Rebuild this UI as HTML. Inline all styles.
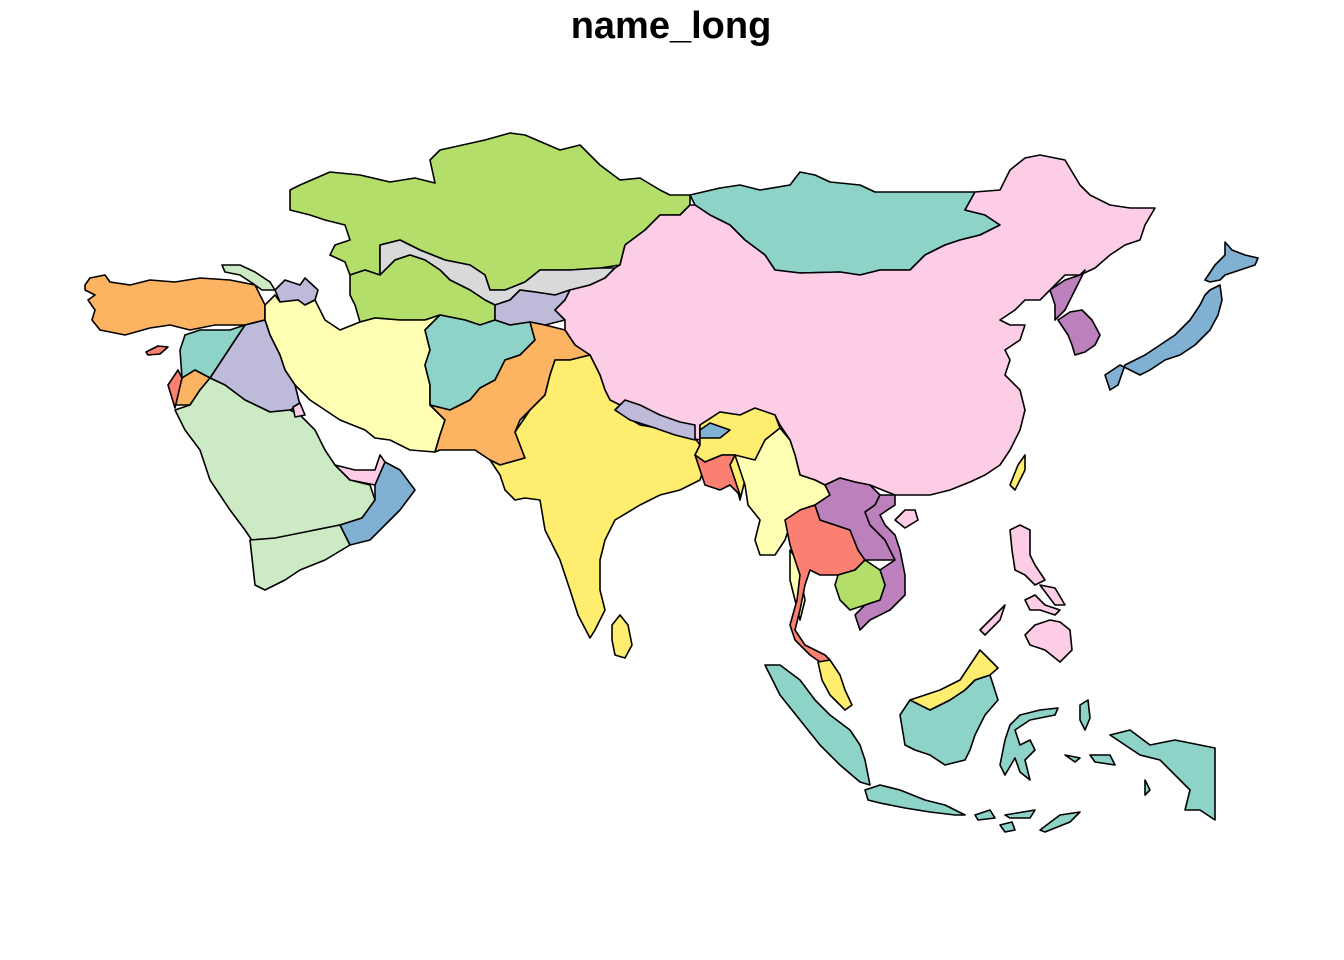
<!DOCTYPE html>
<html><head><meta charset="utf-8"><style>
html,body{margin:0;padding:0;background:#fff;}
svg{display:block}
polygon{stroke:#000;stroke-width:1.6;stroke-linejoin:round}
</style></head><body>
<svg width="1344" height="960" viewBox="0 0 1344 960" xmlns="http://www.w3.org/2000/svg">
<rect width="1344" height="960" fill="#fff" stroke="none"/>
<text x="671" y="38" text-anchor="middle" font-family="Liberation Sans, sans-serif" font-weight="bold" font-size="38">name_long</text>
<polygon fill="#B3DE69" points="290,190 300,185 330,172 360,175 390,182 415,178 435,183 430,160 440,150 485,140 510,133 525,135 560,150 580,145 600,165 620,180 640,178 660,190 670,195 690,195 690,205 680,215 660,215 645,230 625,245 620,265 600,268 570,270 540,270 525,282 505,290 490,290 485,275 470,265 445,260 420,250 400,240 380,245 380,275 365,270 350,275 345,262 330,255 335,245 350,240 345,225 325,220 310,215 290,210"/>
<polygon fill="#D9D9D9" points="380,245 400,240 420,250 445,260 470,265 485,275 490,290 505,290 525,282 540,270 570,270 600,268 615,268 605,278 590,285 570,290 555,295 535,292 520,290 510,300 495,305 485,300 470,290 450,280 440,270 425,260 410,255 395,260 380,275"/>
<polygon fill="#B3DE69" points="350,275 365,270 380,275 395,260 410,255 425,260 440,270 450,280 470,290 485,300 495,305 495,320 480,325 465,320 440,315 425,320 400,320 375,318 360,322 355,305 350,295"/>
<polygon fill="#BEBADA" points="495,305 510,300 520,290 535,292 555,295 570,290 565,300 555,310 565,320 545,325 530,322 510,325 495,320"/>
<polygon fill="#8DD3C7" points="690,195 720,188 740,185 760,190 790,185 800,172 815,175 830,182 860,185 875,192 920,192 945,192 975,192 965,210 985,215 1000,225 980,235 960,240 945,245 925,255 910,270 880,270 860,275 840,272 800,273 775,270 765,255 745,240 730,225 710,215 695,205"/>
<polygon fill="#FCCDE5" points="620,265 625,245 645,230 660,215 680,215 690,205 695,205 710,215 730,225 745,240 765,255 775,270 800,273 840,272 860,275 880,270 910,270 925,255 945,245 960,240 980,235 1000,225 985,215 965,210 975,192 1000,190 1010,170 1025,158 1040,155 1065,160 1080,185 1090,195 1110,205 1130,208 1155,208 1145,225 1140,240 1125,245 1110,255 1095,268 1080,275 1065,275 1050,290 1040,300 1025,300 1015,310 1000,320 1010,325 1025,325 1020,340 1005,350 1010,360 1005,375 1020,390 1025,410 1020,430 1010,450 1000,465 985,475 970,482 950,490 930,495 910,495 895,495 870,485 855,482 840,478 825,485 815,480 800,475 795,455 790,440 780,425 775,415 760,410 740,415 720,412 700,425 700,440 690,438 675,430 655,425 645,418 630,410 620,405 610,400 605,390 600,375 590,355 575,345 565,330 565,320 555,310 565,300 570,290 590,285 605,278 615,268"/>
<polygon fill="#BC80BD" points="1050,290 1065,280 1080,275 1085,270 1075,290 1070,300 1065,310 1060,315 1055,320 1055,305"/>
<polygon fill="#BC80BD" points="1058,320 1070,312 1082,310 1092,320 1100,335 1095,345 1085,352 1075,355 1072,345 1068,335"/>
<polygon fill="#80B1D3" points="1205,280 1215,265 1225,255 1225,242 1232,250 1245,255 1258,258 1255,265 1240,270 1225,275 1220,280 1210,282"/>
<polygon fill="#80B1D3" points="1210,290 1220,285 1222,300 1218,315 1210,330 1195,345 1180,355 1165,360 1150,370 1140,375 1130,370 1120,365 1105,375 1110,390 1118,385 1125,365 1145,355 1160,345 1175,335 1190,320 1200,305 1205,295"/>
<polygon fill="#FFED6F" points="1010,485 1018,465 1025,455 1025,470 1015,490"/>
<polygon fill="#FCCDE5" points="895,520 905,510 915,510 918,520 905,528"/>
<polygon fill="#FDB462" points="85,285 90,278 105,275 110,282 130,285 150,280 175,282 200,278 230,280 255,285 260,295 265,305 265,320 245,325 215,325 190,330 170,325 150,328 125,335 100,330 92,320 95,310 88,300 95,295 85,290"/>
<polygon fill="#FB8072" points="146,352 158,346 168,347 160,354 148,355"/>
<polygon fill="#CCEBC5" points="222,265 240,265 255,272 270,282 275,290 262,290 255,285 240,275 225,272"/>
<polygon fill="#BEBADA" points="275,290 285,280 300,285 305,278 318,290 315,300 305,305 298,300 280,302"/>
<polygon fill="#FFFFB3" points="265,305 275,295 280,302 298,300 305,305 315,300 325,320 340,330 360,322 375,318 400,320 425,320 440,315 425,330 430,350 425,365 430,385 430,405 445,420 440,435 435,452 410,450 390,440 375,438 365,430 340,420 325,410 310,400 295,385 285,370 280,355 270,335 265,320"/>
<polygon fill="#BEBADA" points="210,378 235,340 245,325 265,320 270,335 280,355 285,370 295,385 300,405 290,410 270,412 245,400 225,385"/>
<polygon fill="#8DD3C7" points="180,350 185,335 200,330 230,330 245,325 235,340 210,378 195,370 182,378"/>
<polygon fill="#FDB462" points="175,405 182,378 195,370 210,378 200,390 190,405"/>
<polygon fill="#FB8072" points="168,385 178,370 182,378 175,408"/>
<polygon fill="#CCEBC5" points="175,410 190,405 200,390 210,378 225,385 245,400 270,412 290,410 300,415 315,430 325,450 335,465 350,480 370,485 375,500 362,518 340,525 315,530 275,540 255,545 245,530 230,510 210,480 200,450 185,430"/>
<polygon fill="#CCEBC5" points="250,540 275,538 315,530 340,525 350,545 325,560 300,570 285,580 265,590 255,585"/>
<polygon fill="#80B1D3" points="340,525 362,518 375,500 375,470 385,462 400,470 415,490 400,510 385,525 370,540 350,545"/>
<polygon fill="#FCCDE5" points="335,465 355,470 375,470 380,455 385,462 375,485 350,480"/>
<polygon fill="#FCCDE5" points="293,407 300,403 305,415 295,417"/>
<polygon fill="#8DD3C7" points="425,330 440,315 465,320 480,325 495,320 510,325 530,322 535,340 520,355 505,360 495,380 480,388 470,400 450,410 430,405 430,385 425,365 430,350"/>
<polygon fill="#FDB462" points="430,405 450,410 470,400 480,388 495,380 505,360 520,355 535,340 530,322 545,325 565,330 575,345 590,355 570,360 555,360 550,375 545,395 530,410 520,420 515,432 525,458 500,465 490,460 475,450 440,450 435,452 440,435 445,420"/>
<polygon fill="#FFED6F" points="515,432 530,410 545,395 550,375 555,360 570,360 590,355 600,375 605,390 610,400 620,405 615,410 640,425 670,430 695,438 700,445 695,455 705,465 700,480 680,490 660,495 640,505 615,520 605,540 600,560 600,590 605,610 595,630 590,638 578,615 570,590 560,560 545,530 540,500 525,498 515,500 505,490 500,475 490,460 500,465 525,458"/>
<polygon fill="#FFED6F" points="700,425 720,412 740,415 755,408 775,415 780,428 765,440 755,460 748,470 745,480 740,500 735,480 730,465 735,455 722,455 705,462 695,455 700,445"/>
<polygon fill="#BEBADA" points="615,410 625,400 640,405 660,415 680,422 695,425 695,440 675,435 655,428 630,420"/>
<polygon fill="#80B1D3" points="700,430 710,423 730,430 720,438 700,438"/>
<polygon fill="#FB8072" points="695,455 705,462 722,455 735,455 730,465 735,480 740,495 730,485 720,490 705,485 700,470"/>
<polygon fill="#FFED6F" points="612,625 620,615 628,625 632,645 625,658 615,655 612,640"/>
<polygon fill="#FFFFB3" points="735,455 755,460 765,440 780,428 790,440 795,455 800,475 815,480 825,485 830,495 815,505 800,510 790,525 785,540 775,555 760,555 755,540 760,520 748,505 745,485"/>
<polygon fill="#FFFFB3" points="790,550 797,560 800,575 805,600 800,620 795,600 790,580"/>
<polygon fill="#FB8072" points="785,520 800,510 815,505 820,520 835,525 850,530 858,550 865,560 855,570 838,575 820,575 810,570 805,585 800,610 795,630 805,645 825,655 830,660 820,662 810,655 795,640 790,625 797,600 800,575 795,560 790,545"/>
<polygon fill="#BC80BD" points="815,505 830,495 825,485 840,478 855,482 870,485 880,495 875,505 865,512 870,525 885,540 895,560 870,560 865,560 858,550 850,530 835,525 820,520"/>
<polygon fill="#BC80BD" points="880,495 895,495 895,505 880,515 885,525 895,535 900,550 905,575 905,595 890,610 870,620 860,630 855,615 865,605 880,600 885,585 880,570 895,560 885,540 870,525 865,512 875,505"/>
<polygon fill="#B3DE69" points="838,575 855,570 865,560 880,570 885,585 880,600 865,605 850,610 840,600 835,585"/>
<polygon fill="#FFED6F" points="818,662 830,660 840,675 845,690 852,705 845,710 830,695 822,680"/>
<polygon fill="#8DD3C7" points="765,665 780,665 800,680 815,700 830,715 850,730 860,745 865,760 870,785 860,782 840,765 820,745 800,720 780,695"/>
<polygon fill="#8DD3C7" points="865,790 880,785 900,790 925,800 945,805 965,815 955,815 930,812 905,808 880,803 868,800"/>
<polygon fill="#8DD3C7" points="900,715 910,700 930,710 950,700 965,690 975,680 990,675 998,700 985,715 975,735 970,750 965,760 945,765 930,755 915,750 905,745"/>
<polygon fill="#FFED6F" points="910,700 925,695 940,690 960,680 970,665 980,650 990,660 998,668 990,675 975,680 965,690 950,700 930,710"/>
<polygon fill="#8DD3C7" points="1000,765 1005,740 1010,725 1020,715 1040,710 1058,708 1055,715 1030,720 1015,730 1020,745 1030,740 1035,750 1025,760 1030,780 1020,772 1015,758 1005,775"/>
<polygon fill="#8DD3C7" points="1110,735 1130,730 1150,745 1175,740 1215,748 1215,820 1200,810 1185,810 1190,790 1175,775 1160,760 1140,755 1125,745"/>
<polygon fill="#8DD3C7" points="1080,705 1088,700 1090,718 1085,730 1080,720"/>
<polygon fill="#8DD3C7" points="1065,755 1080,758 1075,762"/>
<polygon fill="#8DD3C7" points="1090,755 1110,755 1115,765 1095,762"/>
<polygon fill="#8DD3C7" points="1145,780 1150,790 1145,795"/>
<polygon fill="#8DD3C7" points="975,815 990,810 995,818 978,820"/>
<polygon fill="#8DD3C7" points="1000,825 1012,822 1015,830 1005,832"/>
<polygon fill="#8DD3C7" points="1005,815 1035,810 1030,818 1010,818"/>
<polygon fill="#8DD3C7" points="1040,830 1060,815 1080,812 1070,822 1045,832"/>
<polygon fill="#FCCDE5" points="1010,530 1020,525 1030,530 1030,555 1035,565 1045,580 1035,585 1025,575 1015,570 1012,550"/>
<polygon fill="#FCCDE5" points="1040,585 1055,588 1065,605 1055,605"/>
<polygon fill="#FCCDE5" points="1025,600 1035,595 1045,605 1060,610 1055,615 1040,610 1030,610"/>
<polygon fill="#FCCDE5" points="1025,635 1035,625 1050,620 1060,622 1070,630 1072,650 1060,662 1045,650 1030,645"/>
<polygon fill="#FCCDE5" points="980,630 995,615 1005,605 1000,620 985,635"/>
</svg>
</body></html>
